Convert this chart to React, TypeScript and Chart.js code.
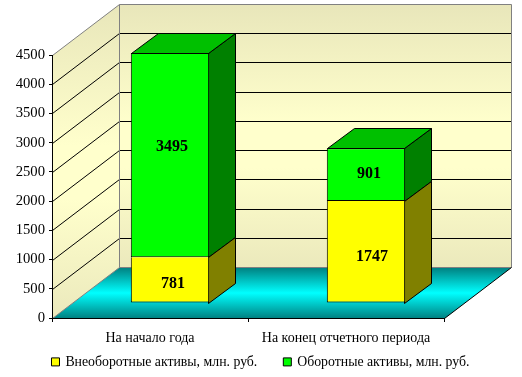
import React, { useEffect, useRef } from "react";
import { Chart, registerables } from "chart.js";

Chart.register(...registerables);

const categories = ["На начало года", "На конец отчетного периода"];
const seriesNames = ["Внеоборотные активы, млн. руб.", "Оборотные активы, млн. руб."];
const nonCurrent = [781, 1747];
const current = [3495, 901];

const SERIF = "'Liberation Serif', 'Times New Roman', serif";

// Pseudo-3D projection constants
const WALL_DX = 67;
const WALL_DY = -51;
const BAR_SHIFT_X = 20;
const BAR_SHIFT_Y = -15;
const BAR_DX = 27;
const BAR_DY = -20;

const faceColors = [
  { side: "#808000", top: "#C0C000" },
  { side: "#008000", top: "#00C000" },
];
const labelNudge = [
  [{ x: 3, y: 4 }, { x: 6, y: 5 }],
  [{ x: 2, y: -8 }, { x: 3, y: -1 }],
];

const poly = (ctx: CanvasRenderingContext2D, pts: number[][]) => {
  ctx.beginPath();
  pts.forEach(([x, y], i) => (i ? ctx.lineTo(x, y) : ctx.moveTo(x, y)));
  ctx.closePath();
};

const wallGradient = (ctx: CanvasRenderingContext2D, y0: number, y1: number) => {
  const g = ctx.createLinearGradient(0, y0, 0, y1);
  g.addColorStop(0, "#E8E6BA");
  g.addColorStop(0.45, "#FFFFCC");
  g.addColorStop(0.62, "#FFFFCC");
  g.addColorStop(1, "#EBE9BC");
  return g;
};

const scene3d = {
  id: "scene3d",
  afterLayout(chart: any) {
    // the legend's wide item gap is also its vertical padding: lift it so the row sits under the axis labels
    chart.legend.top = chart.chartArea.bottom + 10;
  },
  beforeDraw(chart: any) {
    const { ctx, chartArea: a, scales } = chart;
    const y = scales.y;
    const L = a.left + 0.5;
    const R = a.right + 0.5;
    const T = Math.round(a.top) + 0.5;
    const B = Math.round(a.bottom) + 0.5;
    const bL = L + WALL_DX;
    const bR = R + WALL_DX;
    const bT = T + WALL_DY;
    const bB = B + WALL_DY;
    ctx.save();
    // back wall
    poly(ctx, [[bL, bT], [bR, bT], [bR, bB], [bL, bB]]);
    ctx.fillStyle = wallGradient(ctx, bT, bB);
    ctx.fill();
    // side wall
    poly(ctx, [[L, T], [bL, bT], [bL, bB], [L, B]]);
    ctx.fillStyle = wallGradient(ctx, bT, B);
    ctx.fill();
    // floor
    const fg = ctx.createLinearGradient(0, bB, 0, B);
    fg.addColorStop(0, "#008080");
    fg.addColorStop(0.5, "#00FFFF");
    fg.addColorStop(1, "#008080");
    poly(ctx, [[L, B], [bL, bB], [bR, bB], [R, B]]);
    ctx.fillStyle = fg;
    ctx.fill();
    // grid lines
    ctx.lineWidth = 1;
    ctx.strokeStyle = "#000000";
    y.ticks.forEach((t: any) => {
      if (t.value === 0 || t.value === y.max) return;
      const py = Math.round(y.getPixelForValue(t.value)) + 0.5;
      ctx.beginPath();
      ctx.moveTo(L, py);
      ctx.lineTo(bL, py + WALL_DY);
      ctx.lineTo(bR, py + WALL_DY);
      ctx.stroke();
    });
    // wall outlines
    ctx.strokeStyle = "#808080";
    ctx.beginPath();
    ctx.moveTo(L, T);
    ctx.lineTo(bL, bT);
    ctx.lineTo(bR, bT);
    ctx.lineTo(bR, bB);
    ctx.moveTo(bL, bT);
    ctx.lineTo(bL, bB);
    ctx.lineTo(bR, bB);
    ctx.moveTo(bL, bB);
    ctx.lineTo(L, B);
    ctx.stroke();
    // floor front-right edge
    ctx.strokeStyle = "#000000";
    ctx.beginPath();
    ctx.moveTo(bR, bB);
    ctx.lineTo(R, B);
    ctx.stroke();
    ctx.restore();
  },
  beforeDatasetDraw(chart: any, args: any) {
    const { ctx } = chart;
    const i = args.index;
    const meta = args.meta;
    ctx.save();
    ctx.translate(BAR_SHIFT_X, BAR_SHIFT_Y);
    ctx.lineWidth = 1;
    ctx.strokeStyle = "#000000";
    ctx.lineJoin = "miter";
    meta.data.forEach((bar: any) => {
      const p = bar.getProps(["x", "y", "base", "width"], true);
      const l = Math.round(p.x - p.width / 2);
      const r = Math.round(p.x + p.width / 2);
      const t = Math.round(p.y);
      const b = Math.round(p.base);
      poly(ctx, [[r - 0.5, t + 0.5], [r - 0.5 + BAR_DX, t + 0.5 + BAR_DY], [r - 0.5 + BAR_DX, b + 0.5 + BAR_DY], [r - 0.5, b + 0.5]]);
      ctx.fillStyle = faceColors[i].side;
      ctx.fill();
      ctx.stroke();
      if (i === chart.data.datasets.length - 1) {
        poly(ctx, [[l + 0.5, t + 0.5], [l + 0.5 + BAR_DX, t + 0.5 + BAR_DY], [r - 0.5 + BAR_DX, t + 0.5 + BAR_DY], [r - 0.5, t + 0.5]]);
        ctx.fillStyle = faceColors[i].top;
        ctx.fill();
        ctx.stroke();
      }
    });
  },
  afterDatasetDraw(chart: any) {
    chart.ctx.restore();
  },
  afterDatasetsDraw(chart: any) {
    const { ctx, data } = chart;
    ctx.save();
    ctx.font = `bold 16px ${SERIF}`;
    ctx.fillStyle = "#000000";
    ctx.textAlign = "center";
    ctx.textBaseline = "middle";
    data.datasets.forEach((ds: any, i: number) => {
      chart.getDatasetMeta(i).data.forEach((bar: any, j: number) => {
        const p = bar.getProps(["x", "y", "base"], true);
        const n = labelNudge[i][j];
        ctx.fillText(String(ds.data[j]), p.x + BAR_SHIFT_X + n.x, (p.y + p.base) / 2 + BAR_SHIFT_Y + n.y);
      });
    });
    ctx.restore();
  },
};

export default function App() {
  const ref = useRef<HTMLCanvasElement | null>(null);
  useEffect(() => {
    const chart = new Chart(ref.current as HTMLCanvasElement, {
      type: "bar",
      data: {
        labels: categories,
        datasets: [
          { label: seriesNames[0], data: nonCurrent, backgroundColor: "#FFFF00", borderColor: "#000000", borderWidth: 1, borderSkipped: "top", clip: false },
          { label: seriesNames[1], data: current, backgroundColor: "#00FF00", borderColor: "#000000", borderWidth: 1, borderSkipped: false, clip: false },
        ],
      } as any,
      options: {
        animation: false,
        responsive: false,
        events: [],
        barPercentage: 0.4,
        categoryPercentage: 1,
        layout: { padding: { top: 55, right: 0, left: 0, bottom: 0 } },
        plugins: {
          tooltip: { enabled: false },
          legend: {
            position: "bottom",
            maxHeight: 31,
            labels: {
              usePointStyle: true,
              pointStyle: "rect",
              boxWidth: 6,
              boxHeight: 8,
              padding: 27,
              color: "#000000",
              font: { family: SERIF, size: 13.8 },
            },
          },
        },
        scales: {
          x: {
            stacked: true,
            afterFit: (s: any) => { s.height = 28; },
            grid: { display: true, offset: true, drawOnChartArea: false, drawTicks: true, tickLength: 4, color: "#000000" },
            border: { color: "#000000", width: 1 },
            ticks: { color: "#000000", font: { family: SERIF, size: 14 }, padding: 8, maxRotation: 0 },
          },
          y: {
            stacked: true,
            min: 0,
            max: 4500,
            afterFit: (s: any) => { s.width = 52; },
            grid: { display: true, drawOnChartArea: false, drawTicks: true, tickLength: 3, color: "#000000" },
            border: { color: "#000000", width: 1 },
            ticks: { stepSize: 500, color: "#000000", font: { family: SERIF, size: 14.67 }, padding: 4, callback: (v: any) => String(v) },
          },
          // empty right-hand axis: reserves the room the 3D depth extends into
          depth: {
            position: "right",
            min: 0,
            max: 1,
            afterFit: (s: any) => { s.width = 78; },
            grid: { display: false },
            border: { display: false },
            ticks: { display: false },
          },
        },
      } as any,
      plugins: [scene3d as any],
    });
    return () => chart.destroy();
  }, []);
  return (
    <div style={{ position: "absolute", left: 0, top: 0, width: 522, height: 377 }}>
      <canvas ref={ref} width={522} height={377} style={{ display: "block" }} />
    </div>
  );
}
